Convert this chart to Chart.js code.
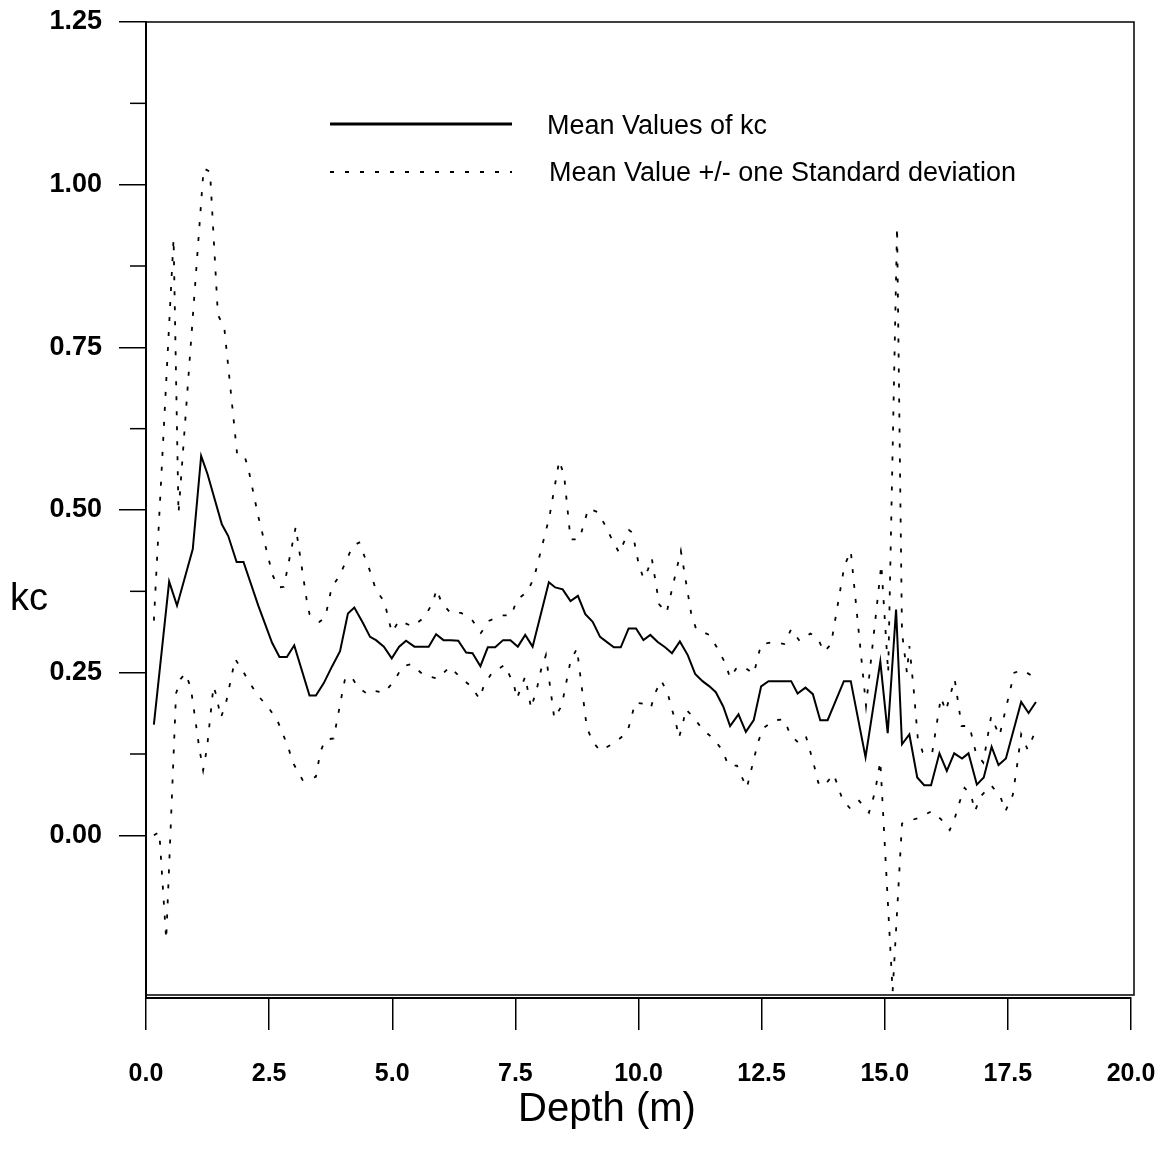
<!DOCTYPE html>
<html>
<head>
<meta charset="utf-8">
<title>kc vs depth</title>
<script src="https://cdn.jsdelivr.net/npm/chart.js@4.4.1/dist/chart.umd.min.js"></script>
<style>
    body { margin: 0; background: #fff; }
    canvas { display: block; }
</style>
</head>
<body>
<canvas id="canvas1" width="1170" height="1156"></canvas>
<script>
// values
let meanDepth = [0.16, 0.47, 0.63, 0.95, 1.12, 1.25, 1.54, 1.67, 1.84, 1.98, 2.28, 2.56, 2.71, 2.86, 3.01, 3.32, 3.45, 3.61, 3.78, 3.94,
    4.10, 4.23, 4.40, 4.55, 4.67, 4.83, 4.99, 5.14, 5.28, 5.45, 5.60, 5.74, 5.89, 6.04, 6.19, 6.34, 6.50, 6.63, 6.79, 6.94,
    7.09, 7.25, 7.40, 7.55, 7.70, 7.85, 8.18, 8.31, 8.46, 8.62, 8.77, 8.92, 9.07, 9.22, 9.36, 9.50, 9.64, 9.80, 9.95, 10.10,
    10.24, 10.39, 10.54, 10.68, 10.84, 11.00, 11.15, 11.30, 11.44, 11.57, 11.72, 11.86, 12.03, 12.18, 12.34, 12.49, 12.64, 12.79, 12.95, 13.10,
    13.23, 13.39, 13.54, 13.69, 13.84, 14.17, 14.31, 14.61, 14.91, 15.06, 15.23, 15.35, 15.50, 15.66, 15.80, 15.94, 16.11, 16.26, 16.41, 16.57,
    16.70, 16.87, 17.01, 17.17, 17.31, 17.46, 17.77, 17.92, 18.07];
let meanKc = [0.17, 0.39, 0.353, 0.44, 0.583, 0.555, 0.478, 0.46, 0.42, 0.42, 0.353, 0.296, 0.274, 0.274, 0.292, 0.215, 0.215, 0.234, 0.26, 0.283,
    0.341, 0.35, 0.327, 0.305, 0.30, 0.29, 0.272, 0.29, 0.299, 0.29, 0.29, 0.29, 0.309, 0.30, 0.30, 0.299, 0.281, 0.28, 0.26, 0.289,
    0.289, 0.30, 0.30, 0.29, 0.308, 0.29, 0.389, 0.381, 0.378, 0.36, 0.368, 0.34, 0.328, 0.305, 0.297, 0.289, 0.289, 0.318, 0.318, 0.30,
    0.308, 0.297, 0.289, 0.28, 0.298, 0.277, 0.248, 0.237, 0.229, 0.22, 0.198, 0.168, 0.186, 0.159, 0.177, 0.229, 0.237, 0.237, 0.237, 0.237,
    0.218, 0.227, 0.217, 0.177, 0.177, 0.237, 0.237, 0.12, 0.267, 0.157, 0.347, 0.14, 0.155, 0.089, 0.077, 0.077, 0.126, 0.099, 0.126, 0.118,
    0.126, 0.078, 0.089, 0.136, 0.108, 0.118, 0.205, 0.188, 0.205];

let upperDepth = [0.16, 0.56, 0.66, 1.17, 1.30, 1.46, 1.59, 1.85, 2.00, 2.08, 2.28, 2.57, 2.69, 2.80, 3.04, 3.26, 3.32, 3.52, 3.64, 3.77,
    3.93, 4.20, 4.33, 4.54, 4.67, 4.84, 4.99, 5.14, 5.41, 5.65, 5.82, 5.90, 6.00, 6.19, 6.40, 6.63, 6.80, 6.97, 7.24, 7.42,
    7.53, 7.74, 7.88, 8.19, 8.39, 8.49, 8.62, 8.80, 8.98, 9.17, 9.32, 9.46, 9.61, 9.81, 9.88, 10.00, 10.10, 10.19, 10.27, 10.42,
    10.57, 10.86, 11.07, 11.17, 11.44, 11.59, 11.76, 11.86, 11.98, 12.12, 12.34, 12.49, 12.76, 12.96, 13.10, 13.27, 13.49, 13.63, 13.77, 13.91,
    14.18, 14.31, 14.62, 14.93, 15.07, 15.25, 15.35, 15.45, 15.50, 15.59, 15.67, 15.77, 15.96, 16.14, 16.24, 16.42, 16.56, 16.72, 16.85, 17.00,
    17.16, 17.33, 17.63, 17.80, 17.97];
let upperKc = [0.33, 0.917, 0.495, 1.025, 1.02, 0.80, 0.78, 0.586, 0.583, 0.563, 0.49, 0.40, 0.381, 0.382, 0.474, 0.363, 0.34, 0.328, 0.335, 0.381,
    0.399, 0.445, 0.45, 0.408, 0.377, 0.359, 0.312, 0.33, 0.321, 0.335, 0.357, 0.378, 0.358, 0.341, 0.342, 0.33, 0.311, 0.33, 0.338, 0.338,
    0.362, 0.374, 0.396, 0.489, 0.576, 0.553, 0.455, 0.455, 0.502, 0.497, 0.477, 0.455, 0.434, 0.469, 0.465, 0.418, 0.395, 0.408, 0.426, 0.355,
    0.342, 0.437, 0.341, 0.317, 0.308, 0.289, 0.265, 0.242, 0.256, 0.26, 0.248, 0.294, 0.297, 0.294, 0.317, 0.299, 0.31, 0.304, 0.282, 0.294,
    0.414, 0.437, 0.199, 0.416, 0.25, 0.935, 0.312, 0.25, 0.291, 0.222, 0.15, 0.128, 0.125, 0.212, 0.191, 0.24, 0.168, 0.168, 0.127, 0.112,
    0.183, 0.153, 0.25, 0.254, 0.246];

let lowerDepth = [0.16, 0.27, 0.41, 0.61, 0.70, 0.80, 0.91, 1.08, 1.16, 1.24, 1.37, 1.42, 1.52, 1.62, 1.81, 1.94, 2.10, 2.27, 2.47, 2.66,
    2.89, 2.98, 3.18, 3.45, 3.54, 3.64, 3.81, 3.98, 4.04, 4.16, 4.31, 4.50, 4.64, 4.83, 5.04, 5.21, 5.39, 5.64, 5.92, 6.17,
    6.38, 6.60, 6.77, 6.87, 7.02, 7.28, 7.47, 7.53, 7.70, 7.82, 7.95, 8.02, 8.12, 8.29, 8.44, 8.62, 8.75, 8.95, 9.07, 9.22,
    9.51, 9.77, 9.85, 9.93, 10.12, 10.25, 10.34, 10.46, 10.59, 10.67, 10.76, 10.82, 10.90, 10.96, 11.12, 11.30, 11.53, 11.71, 11.82, 12.00,
    12.12, 12.20, 12.43, 12.54, 12.76, 12.96, 13.08, 13.25, 13.40, 13.49, 13.57, 13.65, 13.76, 13.96, 14.04, 14.14, 14.30, 14.48, 14.68, 14.80,
    14.91, 15.16, 15.35, 15.48, 15.70, 15.95, 16.14, 16.32, 16.42, 16.51, 16.62, 16.75, 16.83, 16.95, 17.16, 17.35, 17.45, 17.60, 17.69, 17.77,
    17.90, 18.02];
let lowerKc = [0.0, 0.005, -0.16, 0.218, 0.24, 0.249, 0.227, 0.135, 0.10, 0.135, 0.229, 0.217, 0.181, 0.202, 0.271, 0.256, 0.235, 0.215, 0.198, 0.178,
    0.135, 0.112, 0.085, 0.09, 0.128, 0.147, 0.149, 0.217, 0.24, 0.245, 0.227, 0.217, 0.222, 0.219, 0.237, 0.26, 0.263, 0.246, 0.241, 0.259,
    0.243, 0.229, 0.21, 0.232, 0.249, 0.262, 0.232, 0.21, 0.244, 0.195, 0.23, 0.254, 0.277, 0.18, 0.199, 0.268, 0.287, 0.166, 0.144, 0.13,
    0.142, 0.158, 0.179, 0.204, 0.202, 0.196, 0.219, 0.238, 0.219, 0.196, 0.173, 0.15, 0.171, 0.194, 0.181, 0.163, 0.148, 0.13, 0.108, 0.107,
    0.086, 0.073, 0.144, 0.165, 0.177, 0.178, 0.155, 0.142, 0.152, 0.128, 0.106, 0.081, 0.075, 0.094, 0.078, 0.055, 0.041, 0.053, 0.035, 0.066,
    0.114, -0.24, 0.018, 0.022, 0.027, 0.037, 0.025, 0.008, 0.026, 0.049, 0.073, 0.063, 0.037, 0.06, 0.077, 0.059, 0.037, 0.062, 0.109, 0.155,
    0.132, 0.153];

let xTickValues = [0, 2.5, 5, 7.5, 10, 12.5, 15, 17.5, 20];
let yTickValues = [0, 0.25, 0.5, 0.75, 1.0, 1.25];
let yMinorTicks = [0.125, 0.375, 0.625, 0.875, 1.125];

let legendLabels = ["Mean Values of kc", "Mean Value +/- one Standard deviation"];
let xTitle = "Depth (m)";
let yTitle = "kc";

function toPoints(depth, kc) {
    return depth.map(function (d, i) {
        return {x: d, y: kc[i]};
    });
}

let dotted = [4, 11];
let fontName = '"Liberation Sans", Arial, sans-serif';

// frame, minor ticks, legend and the axis titles
let framePlugin = {
    id: 'framePlugin',
    afterDraw: function (chart) {
        let ctx = chart.ctx;
        let a = chart.chartArea;
        let yScale = chart.scales.y;
        ctx.save();
        ctx.strokeStyle = '#000';
        ctx.lineWidth = 1.5;
        ctx.beginPath();
        ctx.moveTo(a.left, a.top);
        ctx.lineTo(a.right + 3, a.top);
        ctx.lineTo(a.right + 3, a.bottom - 3);
        ctx.lineTo(a.left, a.bottom - 3);
        ctx.stroke();

        // short minor ticks on the kc axis
        yMinorTicks.forEach(function (v) {
            let y = yScale.getPixelForValue(v);
            ctx.beginPath();
            ctx.moveTo(a.left - 16, y);
            ctx.lineTo(a.left, y);
            ctx.stroke();
        });

        // legend
        let lx = a.left + 184;
        ctx.lineWidth = 3;
        ctx.beginPath();
        ctx.moveTo(lx, 124);
        ctx.lineTo(lx + 182, 124);
        ctx.stroke();
        ctx.lineWidth = 1.8;
        ctx.setLineDash(dotted);
        ctx.beginPath();
        ctx.moveTo(lx, 172);
        ctx.lineTo(lx + 182, 172);
        ctx.stroke();
        ctx.setLineDash([]);

        ctx.fillStyle = '#000';
        ctx.textBaseline = 'alphabetic';
        ctx.textAlign = 'left';
        ctx.font = '27px ' + fontName;
        ctx.fillText(legendLabels[0], lx + 217, 134);
        ctx.fillText(legendLabels[1], lx + 219, 181);

        ctx.font = '38px ' + fontName;
        ctx.fillText(yTitle, 10, 610);

        ctx.textAlign = 'center';
        ctx.font = '40px ' + fontName;
        ctx.fillText(xTitle, 607, 1121);
        ctx.restore();
    }
};

let chartdata = {
    datasets: [{
        label: legendLabels[0],
        data: toPoints(meanDepth, meanKc),
        borderColor: '#000',
        borderWidth: 2,
        pointRadius: 0
    }, {
        label: legendLabels[1],
        data: toPoints(upperDepth, upperKc),
        borderColor: '#000',
        borderWidth: 1.8,
        borderDash: dotted,
        pointRadius: 0
    }, {
        label: legendLabels[1],
        data: toPoints(lowerDepth, lowerKc),
        borderColor: '#000',
        borderWidth: 1.8,
        borderDash: dotted,
        pointRadius: 0
    }]
};

new Chart(document.getElementById('canvas1'), {
    type: 'line',
    data: chartdata,
    plugins: [framePlugin],
    options: {
        responsive: false,
        animation: false,
        layout: {padding: {top: 22, right: 39, left: 0, bottom: 0}},
        plugins: {
            legend: {display: false},
            tooltip: {enabled: false}
        },
        elements: {line: {tension: 0, fill: false}},
        scales: {
            x: {
                type: 'linear',
                min: 0,
                max: 20,
                afterBuildTicks: function (scale) {
                    scale.ticks = xTickValues.map(function (v) { return {value: v}; });
                },
                afterFit: function (scale) {
                    scale.height = 158;
                    scale.paddingLeft = 0;
                    scale.paddingRight = 0;
                },
                grid: {drawOnChartArea: false, drawTicks: true, tickLength: 32, color: '#000', lineWidth: 1.5},
                border: {display: true, color: '#000', width: 2},
                ticks: {
                    color: '#000',
                    font: {family: fontName, size: 25, weight: 'bold'},
                    padding: 29,
                    maxRotation: 0,
                    autoSkip: false,
                    callback: function (v) { return v.toFixed(1); }
                }
            },
            y: {
                type: 'linear',
                min: -0.25,
                max: 1.25,
                afterBuildTicks: function (scale) {
                    scale.ticks = yTickValues.map(function (v) { return {value: v}; });
                },
                afterFit: function (scale) {
                    scale.width = 146;
                    scale.paddingTop = 0;
                    scale.paddingBottom = 0;
                },
                grid: {drawOnChartArea: false, drawTicks: true, tickLength: 27, color: '#000', lineWidth: 1.5},
                border: {display: true, color: '#000', width: 2},
                ticks: {
                    color: '#000',
                    font: {family: fontName, size: 27, weight: 'bold'},
                    padding: 17,
                    autoSkip: false,
                    callback: function (v) { return v.toFixed(2); }
                }
            }
        }
    }
});
</script>
</body>
</html>
